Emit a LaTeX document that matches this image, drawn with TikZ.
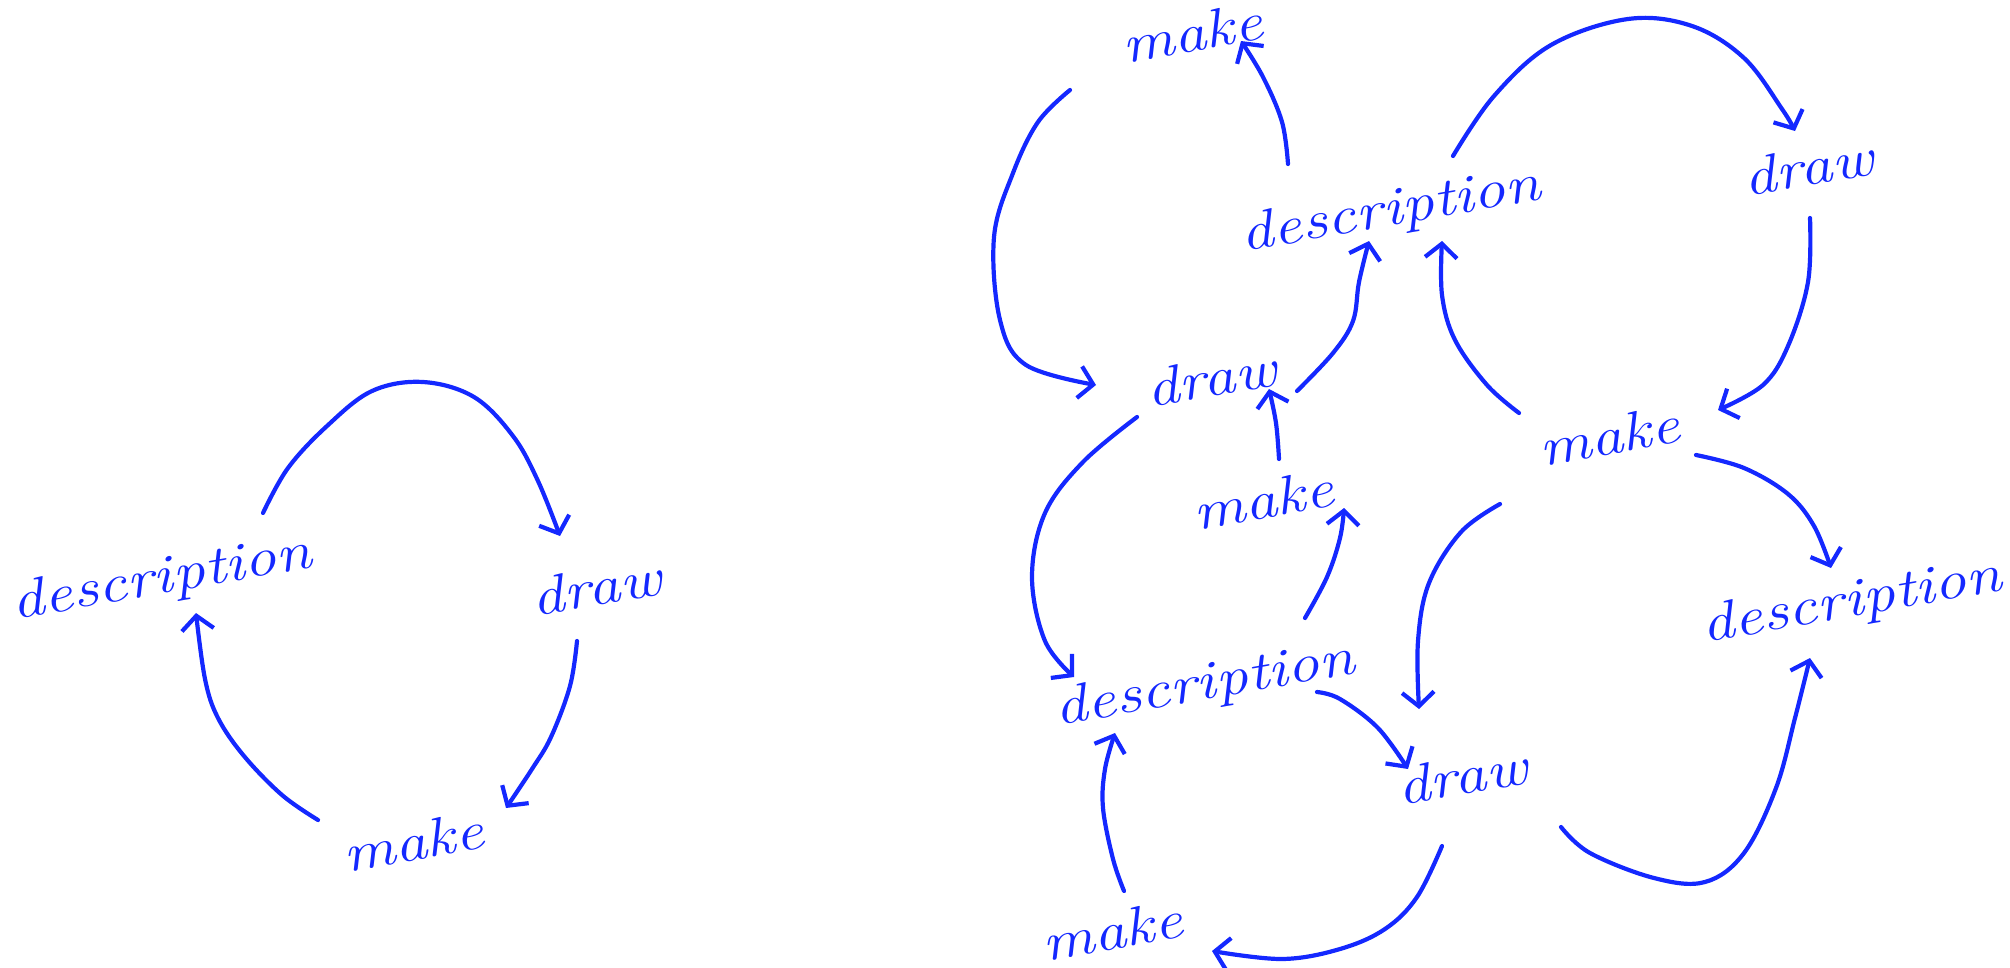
\documentclass[tikz,border=0pt]{standalone}
\usepackage{fontspec}
\usetikzlibrary{arrows.meta,calc}
\definecolor{ink}{HTML}{1428FF}
\tikzset{
  word/.style={text=ink, font=\fontsize{54}{60}\selectfont\itshape, inner sep=0pt, rotate=10, xscale=1.2, anchor=center},
  arr/.style={draw=ink, line width=4.2pt, line cap=round, line join=round,
    -{Straight Barb[length=14pt,width=32pt]}},
}
\begin{document}
\begin{tikzpicture}[x=1pt,y=-1pt]
\useasboundingbox (0,0) rectangle (2010,967);
% left cycle
\node[word] (Ldesc) at (162,580) {description};
\node[word] (Ldraw) at (596,587) {draw};
\node[word] (Lmake) at (413,842) {make};
\draw[arr] plot[smooth,tension=0.6] coordinates {($(Ldesc)+(101,-67)$) (288,468) (327,426) (372,391) (423,382) (474,397) (513,436) (538,481) ($(Ldraw)+(-36,-51)$)};
\draw[arr] plot[smooth,tension=0.6] coordinates {($(Ldraw)+(-19,54)$) (570,686) (551,737) (532,769) ($(Lmake)+(93,-34)$)};
\draw[arr] plot[smooth,tension=0.6] coordinates {($(Lmake)+(-95,-22)$) (282,795) (244,756) (218,718) (205,679) ($(Ldesc)+(34,33)$)};
% right part
\node[word] (M1) at (1192,33) {make};
\node[word] (D1) at (1391,212) {description};
\node[word] (W1) at (1808,167) {draw};
\node[word] (W2) at (1211,378) {draw};
\node[word] (M2) at (1609,436) {make};
\node[word] (M3) at (1263,500) {make};
\node[word] (D2) at (1852,603) {description};
\node[word] (D3) at (1205,686) {description};
\node[word] (W3) at (1462,776) {draw};
\node[word] (M4) at (1112,931) {make};
% B1
\draw[arr] plot[smooth,tension=0.6] coordinates {($(D1)+(-103,-48)$) (1282,122) (1263,77) ($(M1)+(49,8)$)};
% B2
\draw[arr] plot[smooth,tension=0.6] coordinates {($(M1)+(-122,57)$) (1038,122) (1013,173) (994,237) (1000,320) (1026,365) ($(W2)+(-115,7)$)};
% B3
\draw[arr] plot[smooth,tension=0.6] coordinates {($(W2)+(86,13)$) (1333,353) (1353,321) (1359,282) ($(D1)+(-22,29)$)};
% B4
\draw[arr] plot[smooth,tension=0.6] coordinates {($(D1)+(62,-56)$) (1494,96) (1551,45) (1628,19) (1692,26) (1744,58) (1782,109) ($(W1)+(-13,-36)$)};
% B5
\draw[arr] plot[smooth,tension=0.6] coordinates {($(W1)+(2,51)$) (1808,282) (1788,346) (1763,385) ($(M2)+(109,-26)$)};
% B6
\draw[arr] plot[smooth,tension=0.6] coordinates {($(M2)+(-90,-23)$) (1487,385) (1455,340) (1442,295) ($(D1)+(51,29)$)};
% B7
\draw[arr] plot[smooth,tension=0.6] coordinates {($(M3)+(16,-41)$) (1276,423) ($(W2)+(58,11)$)};
% B8
\draw[arr] plot[smooth,tension=0.6] coordinates {($(W2)+(-74,39)$) (1083,462) (1045,513) (1032,577) (1045,641) ($(D3)+(-131,-9)$)};
% B9
\draw[arr] plot[smooth,tension=0.6] coordinates {($(D3)+(100,-68)$) (1327,577) (1340,538) ($(M3)+(81,8)$)};
% B10
\draw[arr] plot[smooth,tension=0.6] coordinates {($(M2)+(87,19)$) (1744,468) (1788,494) (1814,526) ($(D2)+(-21,-35)$)};
% B11
\draw[arr] plot[smooth,tension=0.6] coordinates {($(M2)+(-109,68)$) (1461,532) (1429,583) (1418,641) ($(W3)+(-43,-67)$)};
% B12
\draw[arr] plot[smooth,tension=0.6] coordinates {($(D3)+(112,6)$) (1340,699) (1378,728) ($(W3)+(-54,-7)$)};
% B13
\draw[arr] plot[smooth,tension=0.6] coordinates {($(W3)+(99,51)$) (1590,853) (1654,878) (1705,882) (1744,853) (1776,788) (1795,718) ($(D2)+(-42,55)$)};
% B14
\draw[arr] plot[smooth,tension=0.6] coordinates {($(W3)+(-20,70)$) (1417,897) (1385,929) (1340,949) (1282,959) ($(M4)+(100,20)$)};
% B15
\draw[arr] plot[smooth,tension=0.6] coordinates {($(M4)+(12,-40)$) (1113,859) (1103,808) (1105,769) ($(D3)+(-90,47)$)};
\end{tikzpicture}
\end{document}
